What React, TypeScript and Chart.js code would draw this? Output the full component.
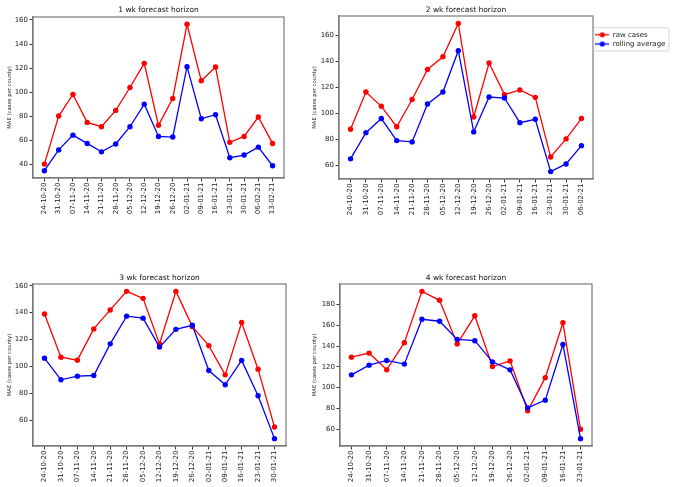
import { useEffect, useRef } from 'react';
import Chart from 'chart.js/auto';

Chart.defaults.font.family = "'DejaVu Sans', sans-serif";

// week labels (each panel uses the first n of them)
const weeks = [
  '24-10-20', '31-10-20', '07-11-20', '14-11-20', '21-11-20', '28-11-20',
  '05-12-20', '12-12-20', '19-12-20', '26-12-20', '02-01-21', '09-01-21',
  '16-01-21', '23-01-21', '30-01-21', '06-02-21', '13-02-21',
];

const raw1 = [40, 80, 98, 74.7, 71.1, 84.7, 103.8, 123.9, 72.3, 94.7, 156.4, 109.4, 120.8, 58.1, 63, 79.2, 57.2];
const roll1 = [34.5, 51.8, 64.1, 57.2, 50.2, 56.7, 71.1, 89.9, 63, 62.5, 121.1, 77.8, 81.1, 45.3, 47.5, 54.1, 38.6];

const raw2 = [87.7, 116.4, 105.4, 89.7, 110.7, 133.8, 143.6, 169.3, 97.2, 138.8, 114.4, 118, 112.3, 66.4, 80.3, 96];
const roll2 = [64.9, 85.1, 96, 79, 78, 107.2, 116.4, 148.3, 85.7, 112.6, 111.8, 92.8, 95.4, 55.1, 61, 75.1];

const raw3 = [139, 106.9, 104.7, 127.9, 142, 155.8, 150.6, 116.8, 155.8, 129.6, 115.5, 93.8, 132.7, 98, 55];
const roll3 = [106.2, 90.1, 92.8, 93.3, 116.8, 137.4, 135.9, 114.4, 127.6, 130.6, 97, 86.4, 104.5, 78.3, 46.4];

const raw4 = [129.3, 133.2, 117.1, 143.2, 192.5, 183.9, 142, 169, 120.3, 125.7, 77.7, 109.6, 162.3, 60];
const roll4 = [112.3, 121.6, 126.1, 122.6, 165.7, 163.8, 146.4, 145.1, 124.8, 117.1, 80.6, 88, 141.5, 51];

const yTicks1 = [40, 60, 80, 100, 120, 140, 160];
const yTicks2 = [60, 80, 100, 120, 140, 160];
const yTicks3 = [60, 80, 100, 120, 140, 160];
const yTicks4 = [60, 80, 100, 120, 140, 160, 180];

const seriesNames = ['raw cases', 'rolling average'];
const seriesColors = ['#ff0000', '#0000ff'];
const yTitle = 'MAE (cases per county)';

const LEGEND_W = 80;
const FRAME_COLOR = '#7a7a7a';

// matplotlib-style box around the axes
const framePlugin = {
  id: 'frame',
  afterDraw(chart: any) {
    const { ctx, chartArea: a } = chart;
    ctx.save();
    ctx.strokeStyle = FRAME_COLOR;
    ctx.lineWidth = 1.2;
    ctx.strokeRect(a.left, a.top, a.right - a.left, a.bottom - a.top);
    ctx.restore();
  },
};

// border round the legend entries
const legendBoxPlugin = {
  id: 'legendBox',
  afterDraw(chart: any) {
    const lg = chart.legend;
    if (!lg || !lg.options.display || !lg.legendHitBoxes?.length) return;
    const hb = lg.legendHitBoxes;
    const left = Math.min(...hb.map((h: any) => h.left)) - 2;
    const right = Math.max(...hb.map((h: any) => h.left + h.width)) + 3;
    const top = hb[0].top - 4;
    const bottom = hb[hb.length - 1].top + hb[hb.length - 1].height + 3;
    const { ctx } = chart;
    ctx.save();
    ctx.strokeStyle = '#cccccc';
    ctx.lineWidth = 0.8;
    ctx.beginPath();
    ctx.roundRect(left + 0.5, top + 0.5, right - left, bottom - top, 2);
    ctx.stroke();
    ctx.restore();
  },
};

function makeSwatch(color: string) {
  const c = document.createElement('canvas');
  c.width = 14;
  c.height = 7;
  const g = c.getContext('2d')!;
  g.strokeStyle = color;
  g.lineWidth = 1.3;
  g.beginPath();
  g.moveTo(0, 3.5);
  g.lineTo(14, 3.5);
  g.stroke();
  g.fillStyle = color;
  g.beginPath();
  g.arc(7, 3.5, 2.6, 0, Math.PI * 2);
  g.fill();
  return c;
}

interface PanelProps {
  title: string;
  raw: number[];
  rolling: number[];
  yTicks: number[];
  frame: { left: number; top: number; width: number; height: number };
  area: { left: number; top: number; right: number; bottom: number };
  titleY: number;
  yTitleX: number;
  legend?: boolean;
}

function Panel({ title, raw, rolling, yTicks, frame, area, titleY, yTitleX, legend = false }: PanelProps) {
  const canvasRef = useRef<HTMLCanvasElement>(null);

  useEffect(() => {
    if (!canvasRef.current) return;
    const ctx = canvasRef.current.getContext('2d');
    if (!ctx) return;

    const n = raw.length;
    const labels = weeks.slice(0, n);
    const pts = (vals: number[]) => vals.map((y, i) => ({ x: i, y }));
    const lo = Math.min(...raw, ...rolling);
    const hi = Math.max(...raw, ...rolling);
    const margin = (hi - lo) * 0.05;

    const yWidth = area.left;
    const xHeight = frame.height - area.bottom;
    const padRight = frame.width - area.right - (legend ? LEGEND_W : 0);
    const titleLine = 9;

    const swatches = seriesColors.map(makeSwatch);

    const axisGrid = { drawOnChartArea: false, tickLength: 3.5, color: '#333' };
    const tickFont = { size: 7 };

    const chart = new Chart(ctx, {
      type: 'line',
      data: {
        datasets: [
          {
            label: seriesNames[0],
            data: pts(raw),
            borderColor: seriesColors[0],
            backgroundColor: seriesColors[0],
            borderWidth: 1.3,
            pointRadius: 2.7,
            pointHoverRadius: 2.7,
            pointBorderWidth: 0,
            order: 1,
          },
          {
            label: seriesNames[1],
            data: pts(rolling),
            borderColor: seriesColors[1],
            backgroundColor: seriesColors[1],
            borderWidth: 1.3,
            pointRadius: 2.7,
            pointHoverRadius: 2.7,
            pointBorderWidth: 0,
            order: 0,
          },
        ],
      },
      options: {
        animation: false,
        responsive: true,
        maintainAspectRatio: false,
        layout: { padding: { left: 0, top: 0, right: padRight, bottom: 0 } },
        plugins: {
          tooltip: { enabled: false },
          title: {
            display: true,
            text: title,
            fullSize: false,
            color: '#111',
            font: { size: 7.5, weight: 'normal' },
            padding: { top: titleY - titleLine / 2, bottom: area.top - titleY - titleLine / 2 },
          },
          legend: legend
            ? {
                display: true,
                position: 'right',
                align: 'start',
                fullSize: false,
                maxWidth: LEGEND_W,
                title: { display: true, text: ' ', font: { size: 1 }, padding: { top: 11.7, bottom: 0 } },
                labels: {
                  usePointStyle: true,
                  pointStyleWidth: 14,
                  boxHeight: 7,
                  padding: 2.3,
                  color: '#222',
                  font: { size: 7 },
                  generateLabels: (c: any) =>
                    c.data.datasets.map((ds: any, i: number) => ({
                      text: ds.label,
                      pointStyle: swatches[i],
                      fillStyle: ds.borderColor,
                      strokeStyle: ds.borderColor,
                      fontColor: '#222',
                      lineWidth: 0,
                      hidden: false,
                      datasetIndex: i,
                    })),
                },
              }
            : { display: false },
        },
        scales: {
          x: {
            type: 'linear',
            min: -0.05 * (n - 1),
            max: 1.05 * (n - 1),
            afterBuildTicks: (s: any) => {
              s.ticks = labels.map((_, i) => ({ value: i }));
            },
            afterFit: (s: any) => {
              s.height = xHeight;
            },
            grid: axisGrid,
            border: { color: FRAME_COLOR, width: 1.2 },
            ticks: {
              autoSkip: false,
              minRotation: 90,
              maxRotation: 90,
              padding: 1,
              color: '#222',
              font: tickFont,
              callback: (v: any) => labels[Math.round(Number(v))] ?? '',
            },
          },
          y: {
            type: 'linear',
            min: lo - margin,
            max: hi + margin,
            afterBuildTicks: (s: any) => {
              s.ticks = yTicks.map((v) => ({ value: v }));
            },
            afterFit: (s: any) => {
              s.width = yWidth;
            },
            grid: axisGrid,
            border: { color: FRAME_COLOR, width: 1.2 },
            ticks: { padding: 1.5, color: '#222', font: tickFont },
            title: {
              display: true,
              text: yTitle,
              color: '#222',
              font: { size: 5.3 },
              padding: { top: yTitleX - 3.2, bottom: 0 },
            },
          },
        },
      } as any,
      plugins: [framePlugin, legendBoxPlugin],
    });

    return () => {
      chart.destroy();
    };
  }, [title, raw, rolling, yTicks, frame, area, titleY, yTitleX, legend]);

  return (
    <div
      style={{
        position: 'absolute',
        left: frame.left,
        top: frame.top,
        width: frame.width,
        height: frame.height,
      }}
    >
      <canvas ref={canvasRef}></canvas>
    </div>
  );
}

export default function App() {
  return (
    <div style={{ position: 'absolute', left: 0, top: 0, width: 673, height: 487, background: '#fff', overflow: 'hidden' }}>
      <Panel
        title="1 wk forecast horizon"
        raw={raw1}
        rolling={roll1}
        yTicks={yTicks1}
        frame={{ left: 0, top: 0, width: 290, height: 240 }}
        area={{ left: 33, top: 17, right: 284, bottom: 178 }}
        titleY={10.5}
        yTitleX={9.5}
      />
      <Panel
        title="2 wk forecast horizon"
        raw={raw2}
        rolling={roll2}
        yTicks={yTicks2}
        frame={{ left: 300, top: 0, width: 373, height: 240 }}
        area={{ left: 39, top: 16, right: 293, bottom: 179 }}
        titleY={10}
        yTitleX={15}
        legend
      />
      <Panel
        title="3 wk forecast horizon"
        raw={raw3}
        rolling={roll3}
        yTicks={yTicks3}
        frame={{ left: 0, top: 245, width: 290, height: 242 }}
        area={{ left: 33, top: 39, right: 286, bottom: 201 }}
        titleY={33}
        yTitleX={9.5}
      />
      <Panel
        title="4 wk forecast horizon"
        raw={raw4}
        rolling={roll4}
        yTicks={yTicks4}
        frame={{ left: 300, top: 245, width: 373, height: 242 }}
        area={{ left: 40, top: 39, right: 292, bottom: 201 }}
        titleY={33}
        yTitleX={15}
      />
    </div>
  );
}
